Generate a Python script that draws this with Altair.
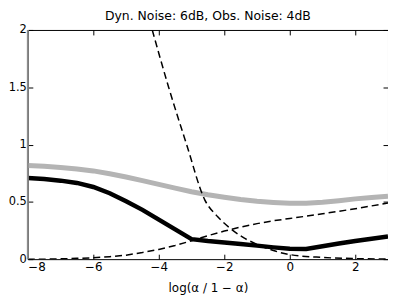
import altair as alt
import pandas as pd

# x grid for thick lines and rising dashed line
x_main = [-8, -7.5, -7, -6.5, -6, -5.5, -5, -4.5, -4, -3.5, -3, -2.5, -2, -1.5, -1, -0.5, 0, 0.5, 1, 1.5, 2, 2.5, 3]
gray_vals = [0.817, 0.81, 0.80, 0.787, 0.77, 0.745, 0.717, 0.685, 0.652, 0.62, 0.588, 0.562, 0.54, 0.52,
             0.505, 0.495, 0.487, 0.488, 0.497, 0.51, 0.526, 0.538, 0.549]
black_vals = [0.708, 0.70, 0.685, 0.665, 0.63, 0.575, 0.505, 0.43, 0.345, 0.26, 0.175, 0.158, 0.145, 0.133,
              0.118, 0.103, 0.09, 0.088, 0.112, 0.137, 0.159, 0.178, 0.197]
rise_vals = [0.0, 0.0, 0.003, 0.007, 0.012, 0.022, 0.035, 0.058, 0.085, 0.12, 0.16, 0.205, 0.245, 0.28,
             0.31, 0.335, 0.355, 0.375, 0.396, 0.418, 0.44, 0.465, 0.49]

# falling dashed line
x_fall = [-4.2, -3.7, -3.15, -2.6, -2.2, -1.8, -1.4, -1.0, -0.5, 0.0, 1.0, 2.0, 3.0]
fall_vals = [2.0, 1.5, 1.0, 0.52, 0.37, 0.265, 0.185, 0.13, 0.075, 0.04, 0.015, 0.005, 0.001]

x_ticks = [-8, -6, -4, -2, 0, 2]
y_ticks = [0, 0.5, 1, 1.5, 2]

df_main = pd.DataFrame({"x": x_main, "gray": gray_vals, "black": black_vals, "rise": rise_vals})
df_fall = pd.DataFrame({"x": x_fall, "fall": fall_vals})
df_spine = pd.DataFrame({"x": [-8], "y0": [0], "y1": [2]})

FONT = "DejaVu Sans"
xscale = alt.Scale(domain=[-8, 3], nice=False, zero=False)
yscale = alt.Scale(domain=[0, 2], nice=False, zero=False)

x_bottom = alt.X("x:Q", scale=xscale, axis=alt.Axis(
    orient="bottom", values=x_ticks, format="d", offset=-5, tickSize=5, domain=False,
    grid=False, labelPadding=2, title="log(α / 1 − α)", titlePadding=11,
    labelFont=FONT, titleFont=FONT, labelFontSize=12, titleFontSize=12,
    titleFontWeight="normal", labelColor="black", titleColor="black", tickColor="black"))
x_top = alt.X("x:Q", scale=xscale, axis=alt.Axis(
    orient="top", values=x_ticks, offset=-5, tickSize=5, domain=False, grid=False,
    labels=False, title="", tickColor="black"))
y_left = alt.Y("gray:Q", scale=yscale, axis=alt.Axis(
    orient="left", values=y_ticks, format="~g", offset=-5, tickSize=5, domain=False,
    grid=False, labelPadding=1.5, title="", labelFont=FONT, labelFontSize=11.5,
    labelColor="black", tickColor="black"))
y_right = alt.Y("black:Q", scale=yscale, axis=alt.Axis(
    orient="right", values=y_ticks, offset=-5, tickSize=5, domain=False, grid=False,
    labels=False, title="", tickColor="black"))

gray_line = alt.Chart(df_main).mark_line(color="#b4b4b4", strokeWidth=5, clip=True).encode(
    x=x_bottom, y=y_left)
black_line = alt.Chart(df_main).mark_line(color="black", strokeWidth=4.5, clip=True).encode(
    x=x_top, y=y_right)
rise_line = alt.Chart(df_main).mark_line(color="black", strokeWidth=1.5, strokeDash=[7, 4], clip=True).encode(
    x=alt.X("x:Q", scale=xscale, axis=None), y=alt.Y("rise:Q", scale=yscale, axis=None))
fall_line = alt.Chart(df_fall).mark_line(color="black", strokeWidth=1.5, strokeDash=[7, 4], clip=True,
                                         interpolate="monotone").encode(
    x=alt.X("x:Q", scale=xscale, axis=None), y=alt.Y("fall:Q", scale=yscale, axis=None))
left_spine = alt.Chart(df_spine).mark_rule(color="#8c8c8c", strokeWidth=2).encode(
    x=alt.X("x:Q", scale=xscale, axis=None), y=alt.Y("y0:Q", scale=yscale, axis=None), y2="y1:Q")

chart = alt.layer(gray_line, black_line, rise_line, fall_line, left_spine).resolve_axis(
    x="independent", y="independent"
).properties(
    width=363, height=231,
    title=alt.TitleParams("Dyn. Noise: 6dB, Obs. Noise: 4dB", font=FONT, fontSize=12.5,
                          fontWeight="normal", color="black", offset=2, anchor="middle"),
    autosize=alt.AutoSizeParams(type="none"),
    padding={"left": 20, "top": 21, "right": 0, "bottom": 37},
).configure_view(stroke="black", strokeWidth=1)

chart.save("out.html", embed_options={"renderer": "svg", "actions": False})
